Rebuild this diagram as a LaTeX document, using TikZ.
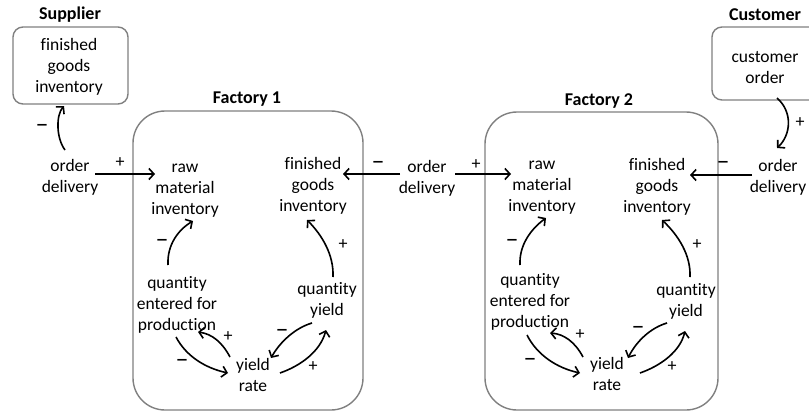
\documentclass[tikz,border=0pt]{standalone}
\usepackage{fontspec}
\setmainfont{Carlito}[Ligatures={NoCommon}]
\usetikzlibrary{arrows.meta}
\newcommand{\mn}{{\fontsize{26}{26}\selectfont –}}
\tikzset{
  txt/.style={align=center, inner sep=0pt, font=\fontsize{17.5}{21}\selectfont},
  ttl/.style={inner sep=0pt, font=\fontsize{18}{20}\selectfont\bfseries},
  sgn/.style={inner sep=0pt, font=\fontsize{18}{20}\selectfont},
  gbox/.style={draw=black!50, line width=1.4pt, rounded corners=10pt},
  fbox/.style={draw=black!50, line width=1.4pt, rounded corners=32pt},
  arr/.style={draw=black, line width=1.6pt, -{Straight Barb[length=5pt,width=11pt,line width=1.6pt]}},
}
\begin{document}
\begin{tikzpicture}[x=1pt,y=-1pt]
\useasboundingbox (0,0) rectangle (809,412);
% boxes
\draw[gbox] (13,27) rectangle (128,104);
\draw[fbox] (133,111) rectangle (363,410);
\draw[fbox] (485,112) rectangle (718,410);
\begin{scope}
\clip (0,0) rectangle (809,412);
\draw[gbox] (712,27) rectangle (840,100);
\end{scope}
% titles
\node[ttl] (tsup) at (70,15) {Supplier};
\node[ttl] (tf1) at (247,99) {Factory 1};
\node[ttl] (tf2) at (599,101) {Factory 2};
\node[ttl] (tcus) at (765,15) {Customer};
% text nodes
\node[txt] (sfg) at (69,67) {finished\\goods\\inventory};
\node[txt] (sod) at (70,177) {order\\delivery};
\node[txt] (raw1) at (185,191) {raw\\material\\inventory};
\node[txt] (fg1) at (313,186) {finished\\goods\\inventory};
\node[txt] (qe1) at (177,305) {quantity\\entered for\\production};
\node[txt] (qy1) at (327,300) {quantity\\yield};
\node[txt] (yr1) at (253,375) {yield\\rate};
\node[txt] (mod) at (427,178) {order\\delivery};
\node[txt] (raw2) at (542,188) {raw\\material\\inventory};
\node[txt] (fg2) at (657,187) {finished\\goods\\inventory};
\node[txt] (qe2) at (530,302) {quantity\\entered for\\production};
\node[txt] (qy2) at (686,301) {quantity\\yield};
\node[txt] (yr2) at (607,374) {yield\\rate};
\node[txt] (co) at (765,68) {customer\\order};
\node[txt] (cod) at (778,177) {order\\delivery};
% connector end points
\coordinate (a1s) at (65,150); \coordinate (a1e) at (64,106);
\coordinate (a2s) at (95,174); \coordinate (a2e) at (155,174);
\coordinate (a3s) at (400,174); \coordinate (a3e) at (343,174);
\coordinate (a4s) at (455,174); \coordinate (a4e) at (511,174);
\coordinate (a5s) at (752,175); \coordinate (a5e) at (690,175);
\coordinate (a6s) at (777,98); \coordinate (a6e) at (777,148);
% top-level arrows
\draw[arr] (a1s) .. controls (56,138) and (56,115) .. (a1e);
\draw[arr] (a2s) -- (a2e);
\draw[arr] (a3s) -- (a3e);
\draw[arr] (a4s) -- (a4e);
\draw[arr] (a5s) -- (a5e);
\draw[arr] (a6s) .. controls (793,112) and (791,135) .. (a6e);
% factory 1
\draw[arr] (168,265) .. controls (167,245) and (178,230) .. (193,221);
\draw[arr] (333,277) .. controls (334,255) and (322,235) .. (307,220);
\draw[arr] (230,357) .. controls (222,342) and (212,334) .. (198,332);
\draw[arr] (176,337) .. controls (186,356) and (205,368) .. (228,373);
\draw[arr] (312,323) .. controls (295,328) and (280,342) .. (271,358);
\draw[arr] (280,373) .. controls (300,366) and (320,352) .. (326,330);
% factory 2
\draw[arr] (520,265) .. controls (519,245) and (531,229) .. (546,218);
\draw[arr] (690,277) .. controls (691,255) and (678,235) .. (662,220);
\draw[arr] (583,357) .. controls (575,342) and (564,334) .. (550,333);
\draw[arr] (527,335) .. controls (537,355) and (557,368) .. (580,373);
\draw[arr] (667,323) .. controls (650,328) and (636,342) .. (628,358);
\draw[arr] (640,373) .. controls (660,366) and (680,352) .. (685,331);
% signs
\node[sgn] at (42,128) {\mn};
\node[sgn] at (120,163) {+};
\node[sgn] at (378,165) {\mn};
\node[sgn] at (476,165) {+};
\node[sgn] at (723,165) {\mn};
\node[sgn] at (800,123) {+};
\node[sgn] at (162,243) {\mn};
\node[sgn] at (343,245) {+};
\node[sgn] at (228,337) {+};
\node[sgn] at (182,363) {\mn};
\node[sgn] at (282,333) {\mn};
\node[sgn] at (313,367) {+};
\node[sgn] at (512,243) {\mn};
\node[sgn] at (697,245) {+};
\node[sgn] at (580,335) {+};
\node[sgn] at (530,362) {\mn};
\node[sgn] at (638,330) {\mn};
\node[sgn] at (672,367) {+};
\end{tikzpicture}
\end{document}
